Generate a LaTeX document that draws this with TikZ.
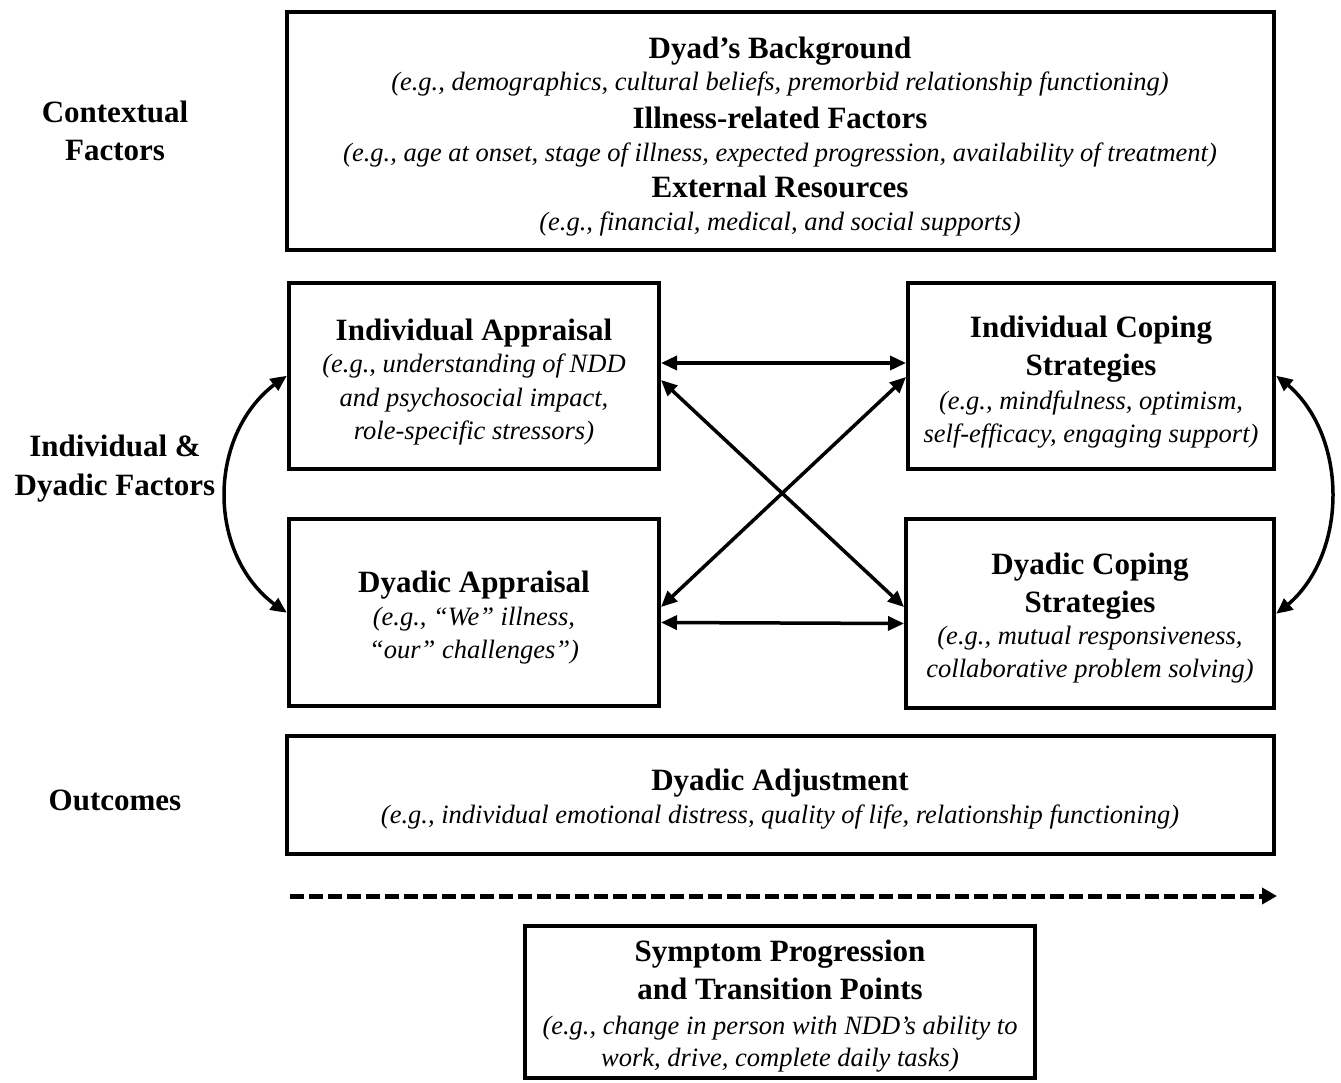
\documentclass[tikz,border=0pt]{standalone}
\usepackage{fontspec}
\setmainfont{Liberation Serif}
\usetikzlibrary{arrows.meta,bending}
\begin{document}
\begin{tikzpicture}[x=1pt,y=-1pt,
  box/.style={draw, line width=4pt, inner sep=0pt},
  tb/.style={font=\fontsize{31}{35}\selectfont\bfseries, anchor=base, inner sep=0pt},
  ti/.style={font=\fontsize{26.5}{32}\selectfont\itshape, anchor=base, inner sep=0pt},
  arr/.style={line width=3.5pt, {Triangle[length=16pt,width=14pt]}-{Triangle[length=16pt,width=14pt]}},
  carr/.style={line width=3.5pt, {Triangle[length=16pt,width=14pt,bend]}-{Triangle[length=16pt,width=14pt,bend]}}]
\useasboundingbox[fill=white] (0,0) rectangle (1341,1082);

% boxes
\node[box, minimum width=987, minimum height=238] (ctx) at (780.5,131) {};
\node[box, minimum width=370, minimum height=186] (ia) at (474,376) {};
\node[box, minimum width=366, minimum height=186] (ic) at (1091,376) {};
\node[box, minimum width=370, minimum height=187] (da) at (474,612.5) {};
\node[box, minimum width=368, minimum height=189] (dc) at (1090,613.5) {};
\node[box, minimum width=987, minimum height=118] (adj) at (780.5,795) {};
\node[box, minimum width=510, minimum height=152] (sym) at (780,1002) {};

% left labels
\node[tb] (l1) at (115,122) {Contextual};
\node[tb] (l2) at (115,160) {Factors};
\node[tb] (l3) at (115,456) {Individual \&};
\node[tb] (l4) at (115,495) {Dyadic Factors};
\node[tb] (l5) at (115,810) {Outcomes};

% contextual box text
\node[tb] (c1) at (780,58) {Dyad’s Background};
\node[ti] (c2) at (780,90) {(e.g., demographics, cultural beliefs, premorbid relationship functioning)};
\node[tb] (c3) at (780,128) {Illness-related Factors};
\node[ti] (c4) at (780,161) {(e.g., age at onset, stage of illness, expected progression, availability of treatment)};
\node[tb] (c5) at (780,197) {External Resources};
\node[ti] (c6) at (780,230) {(e.g., financial, medical, and social supports)};

% individual appraisal
\node[tb] (a1) at (474,340) {Individual Appraisal};
\node[ti] (a2) at (474,372) {(e.g., understanding of NDD};
\node[ti] (a3) at (474,406) {and psychosocial impact,};
\node[ti] (a4) at (474,439) {role-specific stressors)};

% individual coping
\node[tb] (b1) at (1091,337) {Individual Coping};
\node[tb] (b2) at (1091,375) {Strategies};
\node[ti] (b3) at (1091,409) {(e.g., mindfulness, optimism,};
\node[ti] (b4) at (1091,442) {self-efficacy, engaging support)};

% dyadic appraisal
\node[tb] (d1) at (474,592) {Dyadic Appraisal};
\node[ti] (d2) at (474,625) {(e.g., “We” illness,};
\node[ti] (d3) at (474,658) {“our” challenges”)};

% dyadic coping
\node[tb] (e1) at (1090,574) {Dyadic Coping};
\node[tb] (e2) at (1090,612) {Strategies};
\node[ti] (e3) at (1090,644) {(e.g., mutual responsiveness,};
\node[ti] (e4) at (1090,677) {collaborative problem solving)};

% dyadic adjustment
\node[tb] (f1) at (780,790) {Dyadic Adjustment};
\node[ti] (f2) at (780,823) {(e.g., individual emotional distress, quality of life, relationship functioning)};

% symptom
\node[tb] (s1) at (780,961) {Symptom Progression};
\node[tb] (s2) at (780,999) {and Transition Points};
\node[ti] (s3) at (780,1034) {(e.g., change in person with NDD’s ability to};
\node[ti] (s4) at (780,1066) {work, drive, complete daily tasks)};

% connectors
\draw[arr] ([yshift=13pt]ia.east) -- ([yshift=13pt]ic.west);
\draw[arr] ([yshift=-10pt]da.east) -- ([yshift=-10pt]dc.west);
\draw[arr] ([yshift=-4pt]ia.east) -- ([yshift=6.5pt]dc.west);
\draw[arr] ([yshift=-1pt]ic.west) -- ([yshift=5.5pt]da.east);
\draw[carr] (ia.west) .. controls (203,425) and (203,565) .. (da.west);
\draw[carr] (ic.east) .. controls (1352,425) and (1352,565) .. (dc.east);

% time arrow
\coordinate (ts) at (290,896);
\coordinate (te) at (1277,896);
\draw[line width=5pt, dash pattern=on 14pt off 5pt, -{Triangle[length=15pt,width=16pt]}] (ts) -- (te);
\end{tikzpicture}
\end{document}
